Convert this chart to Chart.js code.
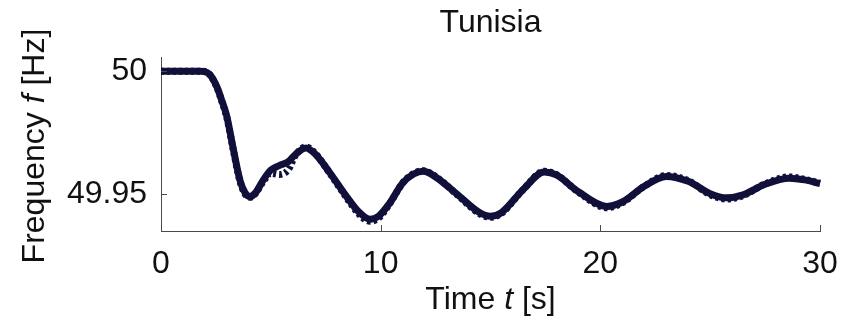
<!DOCTYPE html>
<html>
<head>
<meta charset="utf-8">
<title>Tunisia</title>
<script src="https://cdn.jsdelivr.net/npm/chart.js@4/dist/chart.umd.min.js"></script>
<style>
  html, body { margin: 0; padding: 0; background: #fff; }
  #chart { display: block; }
</style>
</head>
<body>
<canvas id="chart" width="854" height="321"></canvas>
<script>
/* frequency response, Tunisia - measured vs simulated */

const FONT = "'Liberation Sans', Arial, sans-serif";
const INK = '#10103a';
const AXIS = '#4a4a4a';

// time samples [s]
const timeS = [0, 1, 1.8, 2.1, 2.3, 2.55, 2.76, 3.0, 3.3, 3.6, 3.83, 4.05, 4.3, 4.66, 5.0, 5.4, 5.8,
  6.1, 6.6, 7.0, 7.7, 8.45, 9.0, 9.5, 9.9, 10.4, 11.0, 11.5, 11.95, 12.5, 13.5, 14.5, 15.0,
  15.5, 16.5, 17.45, 18.0, 19.0, 20.3, 21.0, 22.0, 23.0, 24.0, 25.0, 25.75, 26.5, 27.5,
  28.6, 29.3, 30];

// solid curve [Hz]
const freqSolid = [50.000, 50.000, 50.000, 49.9995, 49.9978, 49.9935, 49.9883, 49.9815, 49.968,
  49.9555, 49.9505, 49.949, 49.9505, 49.9558, 49.9598, 49.9617, 49.9632, 49.966, 49.9688,
  49.9665, 49.9585, 49.949, 49.9428, 49.9398, 49.941, 49.9462, 49.9545, 49.9582, 49.9593,
  49.957, 49.9498, 49.9425, 49.941, 49.9425, 49.952, 49.959, 49.9578, 49.951, 49.945,
  49.9468, 49.9532, 49.9572, 49.9552, 49.9502, 49.9485, 49.9497, 49.954, 49.9565, 49.9558,
  49.9543];

// dotted curve [Hz]
const freqDotted = [50.000, 50.000, 50.000, 49.9995, 49.9977, 49.9933, 49.988, 49.981, 49.9675,
  49.955, 49.950, 49.9487, 49.9503, 49.9552, 49.9585, 49.958, 49.960, 49.9655, 49.9692,
  49.9668, 49.9583, 49.9485, 49.942, 49.939, 49.9402, 49.946, 49.9545, 49.9584, 49.9595,
  49.9572, 49.9496, 49.942, 49.9406, 49.9422, 49.952, 49.9593, 49.958, 49.9508, 49.9445,
  49.9465, 49.9532, 49.9576, 49.9555, 49.9498, 49.948, 49.9494, 49.9542, 49.957, 49.956,
  49.9545];

const xTicks = [0, 10, 20, 30];
const yTicks = [49.95, 50];
const yTickLabels = ['49.95', '50'];

const toPts = (xs, ys) => xs.map((x, i) => ({ x, y: ys[i] }));

// draw "plain italic plain" text centred on (x, y), optionally rotated
function richText(ctx, parts, x, y, angle) {
  ctx.save();
  ctx.translate(x, y);
  ctx.rotate(angle || 0);
  ctx.fillStyle = '#111';
  ctx.textBaseline = 'alphabetic';
  ctx.textAlign = 'left';
  let total = 0;
  const widths = parts.map(p => {
    ctx.font = (p.italic ? 'italic ' : '') + '32px ' + FONT;
    const w = ctx.measureText(p.text).width;
    total += w;
    return w;
  });
  let cx = -total / 2;
  parts.forEach((p, i) => {
    ctx.font = (p.italic ? 'italic ' : '') + '32px ' + FONT;
    ctx.fillText(p.text, cx, 0);
    cx += widths[i];
  });
  ctx.restore();
}

// inward tick marks + title and axis labels
const decorations = {
  id: 'decorations',
  afterDraw(chart) {
    const { ctx, chartArea: a, scales } = chart;
    ctx.save();
    ctx.strokeStyle = AXIS;
    ctx.lineWidth = 1;
    ctx.beginPath();
    xTicks.forEach(v => {
      const px = Math.round(scales.x.getPixelForValue(v)) + 0.5;
      ctx.moveTo(px, a.bottom);
      ctx.lineTo(px, a.bottom - 6);
    });
    yTicks.forEach(v => {
      const py = Math.round(scales.y.getPixelForValue(v)) + 0.5;
      ctx.moveTo(a.left, py);
      ctx.lineTo(a.left + 6, py);
    });
    ctx.stroke();
    ctx.restore();

    const midX = (a.left + a.right) / 2;
    richText(ctx, [{ text: 'Tunisia' }], midX, 32);
    richText(ctx, [{ text: 'Time ' }, { text: 't', italic: true }, { text: ' [s]' }], midX, 309);
    richText(ctx, [{ text: 'Frequency ' }, { text: 'f', italic: true }, { text: ' [Hz]' }],
      44, (a.top + a.bottom) / 2 + 2, -Math.PI / 2);
  }
};

new Chart(document.getElementById('chart'), {
  type: 'line',
  data: {
    datasets: [
      {
        data: toPts(timeS, freqDotted),
        borderColor: INK,
        borderWidth: 7,
        borderDash: [3, 3],
        pointRadius: 0,
        cubicInterpolationMode: 'monotone',
        fill: false
      },
      {
        data: toPts(timeS, freqSolid),
        borderColor: INK,
        borderWidth: 7,
        pointRadius: 0,
        cubicInterpolationMode: 'monotone',
        fill: false
      }
    ]
  },
  options: {
    responsive: false,
    animation: false,
    events: [],
    clip: false,
    layout: { padding: { top: 57, right: 34, left: 0, bottom: 0 } },
    plugins: { legend: { display: false }, tooltip: { enabled: false }, title: { display: false } },
    scales: {
      x: {
        type: 'linear',
        min: 0,
        max: 30,
        afterFit: s => { s.height = 90; },
        afterBuildTicks: s => { s.ticks = xTicks.map(v => ({ value: v })); },
        grid: { display: false, drawTicks: false, tickLength: 0 },
        border: { display: true, color: AXIS, width: 1 },
        ticks: {
          color: '#111',
          font: { family: FONT, size: 32 },
          padding: 14,
          maxRotation: 0,
          callback: v => String(v)
        }
      },
      y: {
        type: 'linear',
        min: 49.935,
        max: 50.0058,
        afterFit: s => { s.width = 161; },
        afterBuildTicks: s => { s.ticks = yTicks.map(v => ({ value: v })); },
        grid: { display: false, drawTicks: false, tickLength: 0 },
        border: { display: true, color: AXIS, width: 1 },
        ticks: {
          color: '#111',
          font: { family: FONT, size: 32 },
          padding: 14,
          callback: v => yTickLabels[yTicks.indexOf(Math.round(v * 1000) / 1000)] ?? ''
        }
      }
    }
  },
  plugins: [decorations]
});
</script>
</body>
</html>
